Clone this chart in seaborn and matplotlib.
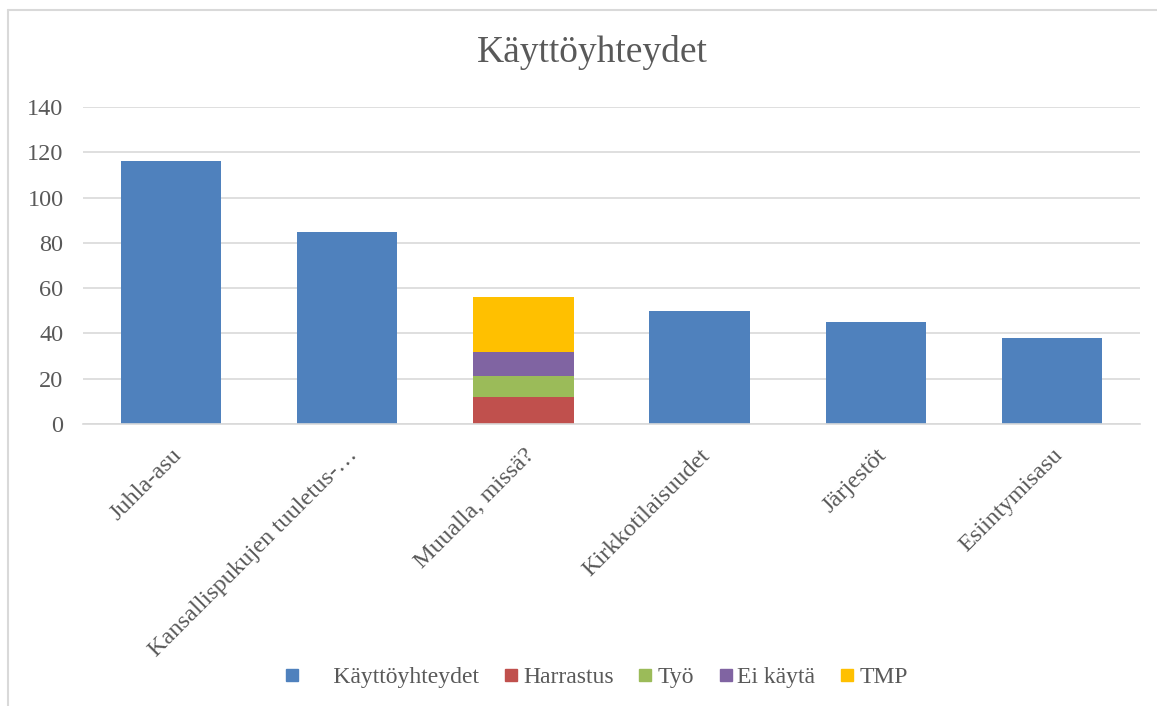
import matplotlib
matplotlib.use("Agg")
import matplotlib.pyplot as plt
import seaborn as sns
import pandas as pd
import numpy as np
from matplotlib.lines import Line2D

# Datos
kategoriat = ["Juhla-asu", "Kansallispukujen tuuletus-…", "Muualla, missä?",
              "Kirkkotilaisuudet", "Järjestöt", "Esiintymisasu"]
kayttoyhteydet = [116, 85, 0, 50, 45, 38]
# pinottu pylväs "Muualla, missä?"
pino_sarjat = ["Harrastus", "Työ", "Ei käytä", "TMP"]
pino_arvot = [12, 9, 11, 24]

sarjat = ["Käyttöyhteydet"] + pino_sarjat
varit = ["#4F81BD", "#C0504D", "#9BBB59", "#8064A2", "#FFC000"]

sns.set_theme(style="white")
plt.rcParams['font.family'] = ['Liberation Serif', 'DejaVu Serif']

fig = plt.figure(figsize=(11.57, 7.06), dpi=100)
ax = fig.add_axes([83 / 1157, 1 - 424 / 706, (1140 - 83) / 1157, (424 - 107) / 706])

# Sininen sarja
df = pd.DataFrame({"kategoria": kategoriat, "arvo": kayttoyhteydet})
sns.barplot(data=df, x="kategoria", y="arvo", color=varit[0], width=0.57,
            saturation=1, ax=ax, order=kategoriat, linewidth=0)

# Pinottu: piirretään kumulatiiviset summat suurimmasta pienimpään
kum = np.cumsum(pino_arvot)
for i in range(len(pino_sarjat) - 1, -1, -1):
    d = pd.DataFrame({"kategoria": [kategoriat[2]], "arvo": [kum[i]]})
    sns.barplot(data=d, x="kategoria", y="arvo", color=varit[i + 1], width=0.57,
                saturation=1, ax=ax, order=kategoriat, linewidth=0)

ax.set_ylim(0, 140)
ax.set_yticks(range(0, 141, 20))
ax.set_xlim(-0.5, len(kategoriat) - 0.5)
ax.yaxis.grid(True, color="#D9D9D9", linewidth=1.2)
ax.set_axisbelow(True)
for s in ["top", "right", "left"]:
    ax.spines[s].set_visible(False)
ax.spines["bottom"].set_color("#D9D9D9")
ax.spines["bottom"].set_linewidth(1.2)
ax.set_xlabel("")
ax.set_ylabel("")
ax.tick_params(axis="both", length=0, labelsize=17.5, colors="#595959")
ax.tick_params(axis="y", pad=14)
plt.setp(ax.get_xticklabels(), rotation=45, ha="right", va="top",
         rotation_mode="anchor")
ax.tick_params(axis="x", pad=15)

fig.text(0.512, 1 - 52 / 706, "Käyttöyhteydet", ha="center", va="center",
         fontsize=27, color="#595959")

kahvat = [Line2D([0], [0], marker="s", linestyle="", markersize=9,
                 markerfacecolor=c, markeredgecolor=c) for c in varit]
tekstit = ["     Käyttöyhteydet"] + pino_sarjat
fig.legend(kahvat, tekstit, loc="center", bbox_to_anchor=(0.515, 1 - 677 / 706),
           ncol=5, frameon=False, fontsize=17, handletextpad=0.15,
           handlelength=0.7, columnspacing=1.0, labelcolor="#595959")

# reunaviivat
fig.add_artist(Line2D([8 / 1157, 8 / 1157], [0, 1 - 10 / 706], color="#D9D9D9",
                      linewidth=1.5, transform=fig.transFigure))
fig.add_artist(Line2D([8 / 1157, 1], [1 - 10 / 706, 1 - 10 / 706], color="#D9D9D9",
                      linewidth=1.5, transform=fig.transFigure))

fig.savefig("out.png", dpi=100)
